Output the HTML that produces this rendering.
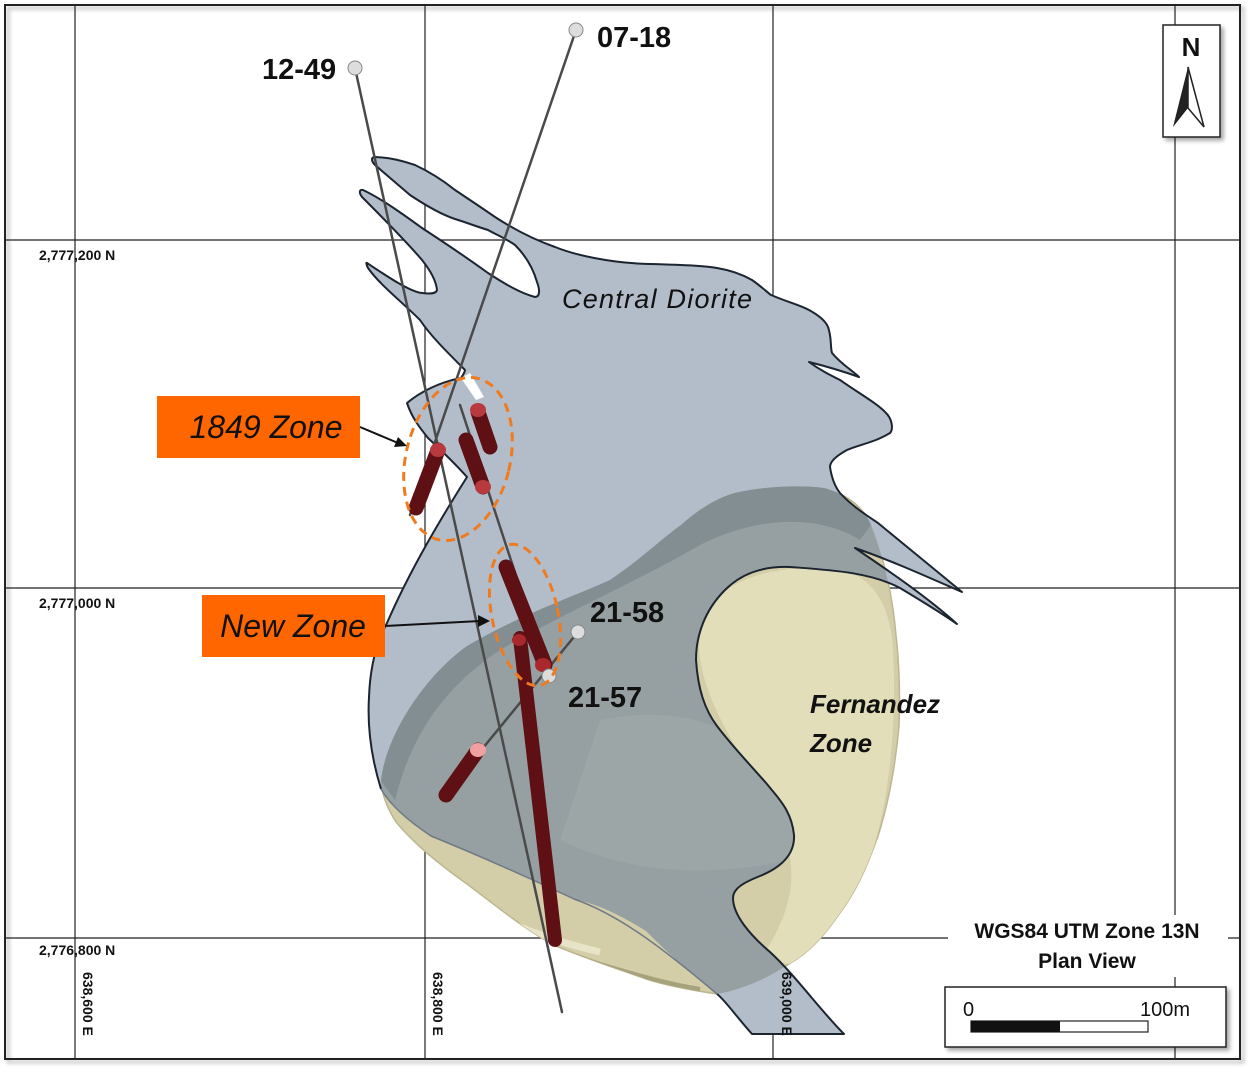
<!DOCTYPE html>
<html><head><meta charset="utf-8"><style>
html,body{margin:0;padding:0;background:#fff;}
svg{display:block;}
text{font-family:"Liberation Sans",sans-serif;}
</style></head><body>
<svg width="1254" height="1075" viewBox="0 0 1254 1075" xmlns="http://www.w3.org/2000/svg">
<defs>
<clipPath id="dioclip"><path d="M375,157 C395,158 405,162 415,165 C430,172 445,182 455,190 C470,200 485,210 495,217 C515,230 535,240 555,247 C575,255 610,263 649,264 C690,265 705,266 717,268 C735,271 745,276 752,280 C762,287 768,293 771,295 C790,303 800,305 809,310 C820,316 826,322 828,327 C832,338 830,346 832,353 C842,365 852,370 859,377 C845,372 825,366 809,362 C820,370 830,375 840,380 C860,394 878,404 886,413 C893,420 893,430 890,433 C876,442 858,445 847,450 C836,456 830,462 830,467 C832,480 836,488 840,493 C852,506 866,515 878,523 C905,545 935,570 962,592 C930,578 890,560 855,548 C880,565 925,595 957,624 C940,612 920,600 900,588 C870,572 830,570 790,567 C760,566 740,575 725,590 C705,610 696,635 696,660 C698,690 705,710 717,726 C735,750 760,775 771,789 C783,803 792,815 794,835 C795,855 780,868 760,876 C745,882 733,888 733,898 C733,915 750,935 770,952 C795,975 820,1010 844,1034 L752,1034 C735,1015 725,1000 717,994 C700,980 690,970 681,964 C665,950 655,940 646,931 C620,915 600,905 574,899 C550,888 525,876 503,866 C480,856 455,846 431,836 C410,822 390,805 381,789 C372,760 367,730 369,697 C370,670 375,645 387,623 C410,570 440,520 467,477 C450,458 430,440 428,438 C420,428 412,418 407,403 C420,392 440,382 461,378 C463,375 465,372 465,370 C445,350 430,335 420,320 C400,300 380,285 368,268 C366,264 366,262 367,263 C385,275 410,292 422,293 C430,294 436,294 437,290 C436,280 430,270 422,260 C405,240 380,215 362,197 C359,193 359,189 363,190 C380,198 400,212 422,228 C445,243 470,260 488,273 C505,284 520,293 535,297 C540,297 540,290 537,282 C533,268 525,255 515,245 C505,238 495,234 488,230 C475,226 465,222 455,219 C440,214 425,205 410,195 C395,182 383,172 375,165 C371,161 371,157 375,157 Z"/></clipPath>
<clipPath id="tanclip"><path d="M381,781 C385,740 420,680 467,646 C520,615 570,598 610,580 C640,560 660,540 681,525 C700,508 720,496 739,492 C770,486 800,485 824,488 C850,495 865,510 871,525 C885,560 893,600 896,635 C900,670 900,700 899,726 C895,770 888,805 878,836 C866,870 855,892 842,910 C825,935 810,952 789,964 C765,980 740,990 717,994 C690,990 665,985 646,979 C615,968 585,958 556,946 C525,930 495,905 467,884 C440,865 415,845 396,822 C387,808 382,795 381,781 Z"/></clipPath>
<filter id="sh" x="-10%" y="-10%" width="130%" height="130%"><feDropShadow dx="3" dy="3" stdDeviation="2" flood-color="#000" flood-opacity="0.35"/></filter>
</defs>
<rect x="0" y="0" width="1254" height="1075" fill="#fff"/>
<rect x="5" y="5" width="1235" height="1054" fill="none" stroke="#222" stroke-width="2" filter="url(#sh)"/>
<g stroke="#222" stroke-width="1.2">
<line x1="75" y1="6" x2="75" y2="1058"/>
<line x1="425" y1="6" x2="425" y2="1058"/>
<line x1="773" y1="6" x2="773" y2="1058"/>
<line x1="1175" y1="6" x2="1175" y2="1058"/>
<line x1="6" y1="240" x2="1239" y2="240"/>
<line x1="6" y1="588" x2="1239" y2="588"/>
<line x1="6" y1="938" x2="1239" y2="938"/>
</g>
<!-- tan body -->
<path d="M381,781 C385,740 420,680 467,646 C520,615 570,598 610,580 C640,560 660,540 681,525 C700,508 720,496 739,492 C770,486 800,485 824,488 C850,495 865,510 871,525 C885,560 893,600 896,635 C900,670 900,700 899,726 C895,770 888,805 878,836 C866,870 855,892 842,910 C825,935 810,952 789,964 C765,980 740,990 717,994 C690,990 665,985 646,979 C615,968 585,958 556,946 C525,930 495,905 467,884 C440,865 415,845 396,822 C387,808 382,795 381,781 Z" fill="#d3cea8" stroke="#bcb791" stroke-width="1.5"/>
<g clip-path="url(#tanclip)">
<path d="M700,620 C720,580 770,565 830,568 C870,572 890,600 893,650 C897,720 890,800 870,860 C850,910 820,950 789,964 L760,960 C800,900 800,860 770,800 C730,740 690,680 700,620 Z" fill="#e2deba"/>
<path d="M390,850 C450,905 520,940 600,965 C640,977 670,985 700,990" fill="none" stroke="#a6a27b" stroke-width="6"/>
<path d="M420,875 C480,915 540,938 600,952" fill="none" stroke="#e8e4c8" stroke-width="7"/>
<path d="M460,905 C530,940 600,965 640,985" fill="none" stroke="#9e9a72" stroke-width="4"/>
</g>
<!-- Central Diorite -->
<path id="dpath" d="M375,157 C395,158 405,162 415,165 C430,172 445,182 455,190 C470,200 485,210 495,217 C515,230 535,240 555,247 C575,255 610,263 649,264 C690,265 705,266 717,268 C735,271 745,276 752,280 C762,287 768,293 771,295 C790,303 800,305 809,310 C820,316 826,322 828,327 C832,338 830,346 832,353 C842,365 852,370 859,377 C845,372 825,366 809,362 C820,370 830,375 840,380 C860,394 878,404 886,413 C893,420 893,430 890,433 C876,442 858,445 847,450 C836,456 830,462 830,467 C832,480 836,488 840,493 C852,506 866,515 878,523 C905,545 935,570 962,592 C930,578 890,560 855,548 C880,565 925,595 957,624 C940,612 920,600 900,588 C870,572 830,570 790,567 C760,566 740,575 725,590 C705,610 696,635 696,660 C698,690 705,710 717,726 C735,750 760,775 771,789 C783,803 792,815 794,835 C795,855 780,868 760,876 C745,882 733,888 733,898 C733,915 750,935 770,952 C795,975 820,1010 844,1034 L752,1034 C735,1015 725,1000 717,994 C700,980 690,970 681,964 C665,950 655,940 646,931 C620,915 600,905 574,899 C550,888 525,876 503,866 C480,856 455,846 431,836 C410,822 390,805 381,789 C372,760 367,730 369,697 C370,670 375,645 387,623 C410,570 440,520 467,477 C450,458 430,440 428,438 C420,428 412,418 407,403 C420,392 440,382 461,378 C463,375 465,372 465,370 C445,350 430,335 420,320 C400,300 380,285 368,268 C366,264 366,262 367,263 C385,275 410,292 422,293 C430,294 436,294 437,290 C436,280 430,270 422,260 C405,240 380,215 362,197 C359,193 359,189 363,190 C380,198 400,212 422,228 C445,243 470,260 488,273 C505,284 520,293 535,297 C540,297 540,290 537,282 C533,268 525,255 515,245 C505,238 495,234 488,230 C475,226 465,222 455,219 C440,214 425,205 410,195 C395,182 383,172 375,165 C371,161 371,157 375,157 Z" fill="#b3bdca"/>
<g clip-path="url(#dioclip)">
<path d="M381,781 C385,740 420,680 467,646 C520,615 570,598 610,580 C640,560 660,540 681,525 C700,508 720,496 739,492 C770,486 800,485 824,488 C850,495 865,510 871,525 C885,560 893,600 896,635 C900,670 900,700 899,726 C895,770 888,805 878,836 C866,870 855,892 842,910 C825,935 810,952 789,964 C765,980 740,990 717,994 C690,990 665,985 646,979 C615,968 585,958 556,946 C525,930 495,905 467,884 C440,865 415,845 396,822 C387,808 382,795 381,789 Z" fill="#96a0a2"/>
<path d="M381,781 C385,740 420,680 467,646 C520,615 570,598 610,580 C640,560 660,540 681,525 C700,508 720,496 739,492 C770,486 800,485 824,488 C850,495 865,510 871,525 L860,540 C820,515 760,515 700,545 C640,580 560,615 500,650 C440,690 410,740 395,800 Z" fill="#838e93"/>
<path d="M600,720 C700,700 760,740 800,800 L790,860 C700,880 620,870 560,840 Z" fill="#9ea8a8" opacity="0.7"/>
</g>
<path d="M375,157 C395,158 405,162 415,165 C430,172 445,182 455,190 C470,200 485,210 495,217 C515,230 535,240 555,247 C575,255 610,263 649,264 C690,265 705,266 717,268 C735,271 745,276 752,280 C762,287 768,293 771,295 C790,303 800,305 809,310 C820,316 826,322 828,327 C832,338 830,346 832,353 C842,365 852,370 859,377 C845,372 825,366 809,362 C820,370 830,375 840,380 C860,394 878,404 886,413 C893,420 893,430 890,433 C876,442 858,445 847,450 C836,456 830,462 830,467 C832,480 836,488 840,493 C852,506 866,515 878,523 C905,545 935,570 962,592 C930,578 890,560 855,548 C880,565 925,595 957,624 C940,612 920,600 900,588 C870,572 830,570 790,567 C760,566 740,575 725,590 C705,610 696,635 696,660 C698,690 705,710 717,726 C735,750 760,775 771,789 C783,803 792,815 794,835 C795,855 780,868 760,876 C745,882 733,888 733,898 C733,915 750,935 770,952 C795,975 820,1010 844,1034 L752,1034 C735,1015 725,1000 717,994 M381,789 C372,760 367,730 369,697 C370,670 375,645 387,623 C410,570 440,520 467,477 C450,458 430,440 428,438 C420,428 412,418 407,403 C420,392 440,382 461,378 C463,375 465,372 465,370 C445,350 430,335 420,320 C400,300 380,285 368,268 C366,264 366,262 367,263 C385,275 410,292 422,293 C430,294 436,294 437,290 C436,280 430,270 422,260 C405,240 380,215 362,197 C359,193 359,189 363,190 C380,198 400,212 422,228 C445,243 470,260 488,273 C505,284 520,293 535,297 C540,297 540,290 537,282 C533,268 525,255 515,245 C505,238 495,234 488,230 C475,226 465,222 455,219 C440,214 425,205 410,195 C395,182 383,172 375,165 C371,161 371,157 375,157" fill="none" stroke="#1c2430" stroke-width="2" stroke-linejoin="round"/>
<path d="M381,789 C390,805 410,822 431,836 C480,856 525,876 574,899 C620,915 665,950 717,994" fill="none" stroke="#6f7a86" stroke-width="1.5"/>
<path d="M461,378 L470,373 L484,397 L476,400 Z" fill="#fff"/>
<!-- Drill holes -->
<g stroke="#4a4a4a" stroke-width="2.5" stroke-linecap="round">
<line x1="355" y1="68" x2="562" y2="1012"/>
<line x1="576" y1="30" x2="410" y2="515"/>
<line x1="460" y1="405" x2="549" y2="676"/>
<line x1="578" y1="632" x2="442" y2="798"/>
</g>
<g stroke-linecap="round">
<line x1="438" y1="450" x2="416" y2="508" stroke="#5e1014" stroke-width="15"/>
<line x1="478" y1="412" x2="490" y2="447" stroke="#5e1014" stroke-width="15"/>
<line x1="466" y1="440" x2="483" y2="487" stroke="#5e1014" stroke-width="15"/>
<line x1="506" y1="567" x2="545" y2="665" stroke="#5e1014" stroke-width="15"/>
<line x1="520" y1="638" x2="555" y2="940" stroke="#5e1014" stroke-width="14"/>
<line x1="478" y1="750" x2="446" y2="795" stroke="#5e1014" stroke-width="15"/>
</g>
<g>
<ellipse cx="438" cy="450" rx="8" ry="7" fill="#b83a3e"/>
<ellipse cx="478" cy="410" rx="8" ry="7" fill="#b83a3e"/>
<ellipse cx="483" cy="487" rx="8" ry="7" fill="#b83a3e"/>
<ellipse cx="543" cy="665" rx="8" ry="7" fill="#a8282c"/>
<ellipse cx="519" cy="640" rx="7" ry="6" fill="#a8282c"/>
<ellipse cx="478" cy="750" rx="8" ry="7" fill="#f0a0a0"/>
</g>
<g fill="#ddd" stroke="#888" stroke-width="1">
<circle cx="355" cy="68" r="7"/>
<circle cx="576" cy="30" r="7"/>
<circle cx="578" cy="632" r="7"/>
<circle cx="549" cy="676" r="7"/>
</g>
<g fill="none" stroke="#f07a1e" stroke-width="3" stroke-dasharray="9,6">
<ellipse cx="458" cy="459" rx="52" ry="83" transform="rotate(14 458 459)"/>
<ellipse cx="525" cy="615" rx="33" ry="72" transform="rotate(-12 525 615)"/>
</g>
<rect x="157" y="396" width="203" height="62" fill="#ff6600"/>
<text x="266" y="438" font-size="32" font-style="italic" text-anchor="middle" fill="#111">1849 Zone</text>
<rect x="202" y="595" width="183" height="62" fill="#ff6600"/>
<text x="293" y="637" font-size="32" font-style="italic" text-anchor="middle" fill="#111">New Zone</text>
<g stroke="#111" stroke-width="2"><line x1="360" y1="427" x2="398" y2="443"/><line x1="385" y1="626" x2="480" y2="621"/></g>
<path d="M407,446 L394,447 L398,437 Z" fill="#111"/>
<path d="M490,621 L478,615 L478,627 Z" fill="#111"/>
<g font-size="29" font-weight="bold" fill="#111">
<text x="262" y="79">12-49</text>
<text x="597" y="47">07-18</text>
<text x="590" y="622">21-58</text>
<text x="568" y="707">21-57</text>
</g>
<text x="562" y="308" font-size="27" font-style="italic" fill="#111" textLength="190">Central Diorite</text>
<text x="810" y="713" font-size="26" font-style="italic" font-weight="bold" fill="#111">Fernandez</text>
<text x="810" y="752" font-size="26" font-style="italic" font-weight="bold" fill="#111">Zone</text>
<g font-size="14" font-weight="bold" fill="#111">
<text x="39" y="260">2,777,200 N</text>
<text x="39" y="608">2,777,000 N</text>
<text x="39" y="955">2,776,800 N</text>
<text transform="translate(83,972) rotate(90)">638,600 E</text>
<text transform="translate(433,972) rotate(90)">638,800 E</text>
<text transform="translate(782,972) rotate(90)">639,000 E</text>
</g>
<rect x="1163" y="25" width="57" height="112" fill="#fff" stroke="#222" stroke-width="1.5" filter="url(#sh)"/>
<text x="1191" y="56" font-size="26" font-weight="bold" text-anchor="middle" fill="#111">N</text>
<path d="M1188,67 L1173,127 L1188,108 Z" fill="#222"/>
<path d="M1188,67 L1204,127 L1188,108 Z" fill="#fff" stroke="#222" stroke-width="1.5"/>
<rect x="948" y="915" width="280" height="62" fill="#fff"/>
<text x="1087" y="938" font-size="21" font-weight="bold" text-anchor="middle" fill="#111">WGS84 UTM Zone 13N</text>
<text x="1087" y="968" font-size="21" font-weight="bold" text-anchor="middle" fill="#111">Plan View</text>
<rect x="945" y="987" width="281" height="60" fill="#fff" stroke="#222" stroke-width="1.5" filter="url(#sh)"/>
<text x="963" y="1016" font-size="20" fill="#111">0</text>
<text x="1140" y="1016" font-size="20" fill="#111">100m</text>
<rect x="971" y="1021" width="177" height="11" fill="#fff" stroke="#222" stroke-width="1.2"/>
<rect x="971" y="1021" width="89" height="11" fill="#111"/>
</svg>
</body></html>
